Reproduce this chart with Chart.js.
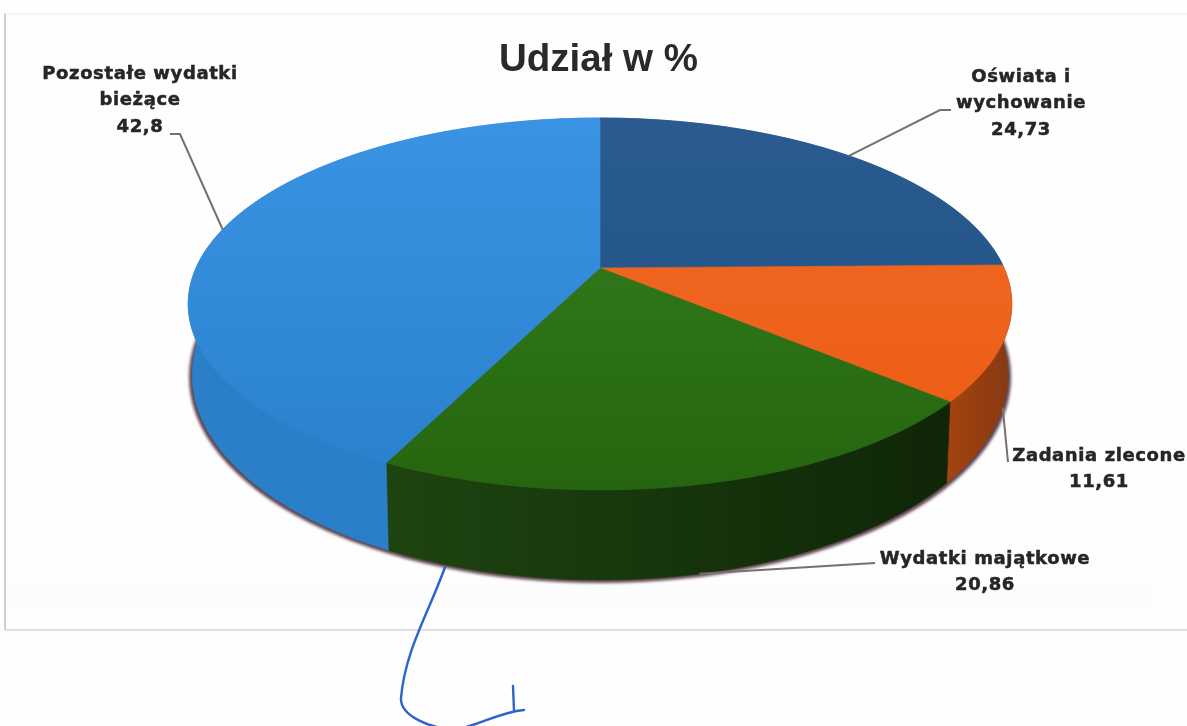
<!DOCTYPE html>
<html lang="pl">
<head>
<meta charset="utf-8">
<title>Udział w %</title>
<script src="https://cdn.jsdelivr.net/npm/chart.js@4"></script>
<style>
    html, body { margin: 0; padding: 0; background: #fff; }
    #wrap { width: 1187px; height: 726px; }
</style>
</head>
<body>
<div id="wrap"><canvas id="udzialChart" width="1187" height="726"></canvas></div>
<script>
const categories = ['Oświata i wychowanie', 'Zadania zlecone', 'Wydatki majątkowe', 'Pozostałe wydatki bieżące'];
const shares = [24.73, 11.61, 20.86, 42.8];
const shareLabels = ['24,73', '11,61', '20,86', '42,8'];

const topColors = [['#2b5b90', '#1b5187'], ['#ee6c2a', '#ee5a10'], ['#33821f', '#26650f'], ['#3a93e3', '#2a80cc']];
const wallColors = [['#1b4a78', '#1b4a78'], ['#a4430f', '#8a3a12'], ['#1e4410', '#0f2608'], ['#2a7fc8', '#2778bc']];

// label lines, centre x, first line y, leader points after the anchor
const labels = [
    { lines: ['Oświata i', 'wychowanie'], x: 1021, y: 77, leader: [[940, 110], [951, 110]] },
    { lines: ['Zadania zlecone'], x: 1099, y: 456, wall: true, leader: [[1008, 462]] },
    { lines: ['Wydatki majątkowe'], x: 985, y: 559, wall: true, leader: [[875, 563]] },
    { lines: ['Pozostałe wydatki', 'bieżące'], x: 140, y: 74, leader: [[180, 134], [170, 134]] }
];

// projected shape of the disc: apex, upper rim ellipse, lower rim ellipse
const apex = { x: 600, y: 268 };
const rim = { x: 600, y: 304, rx: 412, ry: 186 };
const base = { x: 600, y: 375, rx: 408, ry: 205 };
const tilt = -0.1935;

function project(a) {
    const u = Math.cos(a), v = Math.sin(a), w = 1 + tilt * v;
    return { x: apex.x + 404 * u / w, y: apex.y + 179 * v / w };
}

function toBase(p) {
    const c = (p.x - rim.x) / rim.rx, s = (p.y - rim.y) / rim.ry;
    return { x: base.x + base.rx * c, y: base.y + base.ry * s };
}

function edge(start, end) {
    const pts = [];
    const n = Math.max(8, Math.ceil((end - start) * 60));
    for (let i = 0; i <= n; i++) pts.push(project(start + (end - start) * i / n));
    return pts;
}

function trace(ctx, pts) {
    pts.forEach((p, i) => i ? ctx.lineTo(p.x, p.y) : ctx.moveTo(p.x, p.y));
}

const discPlugin = {
    id: 'disc',
    beforeDraw(chart) {
        const ctx = chart.ctx;
        ctx.save();
        ctx.fillStyle = '#fefefe';
        ctx.fillRect(0, 0, 1187, 726);
        ctx.fillStyle = '#fcfcfd';
        ctx.fillRect(10, 586, 1140, 20);
        ctx.strokeStyle = '#cfcfcf';
        ctx.lineWidth = 2;
        ctx.beginPath(); ctx.moveTo(5, 13); ctx.lineTo(5, 630); ctx.stroke();
        ctx.strokeStyle = '#d6d6d6';
        ctx.lineWidth = 1.5;
        ctx.beginPath(); ctx.moveTo(5, 630); ctx.lineTo(1187, 630); ctx.stroke();
        ctx.strokeStyle = '#f1f1f1';
        ctx.beginPath(); ctx.moveTo(5, 14); ctx.lineTo(1187, 14); ctx.stroke();
        ctx.restore();
    },
    beforeDatasetsDraw(chart) {
        const ctx = chart.ctx;
        const arcs = chart.getDatasetMeta(0).data;
        ctx.save();

        // soft shadow under the disc
        ctx.save();
        ctx.filter = 'blur(1.8px)';
        ctx.fillStyle = '#5e4350';
        ctx.beginPath();
        ctx.ellipse(base.x, base.y + 2, base.rx + 3, base.ry + 1, 0, 0, Math.PI * 2);
        ctx.fill();
        ctx.restore();

        // side walls
        arcs.forEach((arc, i) => {
            const top = edge(arc.startAngle, arc.endAngle);
            const bottom = top.map(toBase).reverse();
            const x0 = Math.min(top[0].x, top[top.length - 1].x);
            const x1 = Math.max(top[0].x, top[top.length - 1].x);
            const g = ctx.createLinearGradient(x0, 0, x1, 0);
            g.addColorStop(0, wallColors[i][0]);
            g.addColorStop(1, wallColors[i][1]);
            ctx.fillStyle = g;
            ctx.strokeStyle = g;
            ctx.lineWidth = 0.6;
            ctx.beginPath();
            trace(ctx, top.concat(bottom));
            ctx.closePath();
            ctx.fill();
            ctx.stroke();
        });

        // top face
        arcs.forEach((arc, i) => {
            const g = ctx.createLinearGradient(0, rim.y - rim.ry, 0, rim.y + rim.ry);
            g.addColorStop(0, topColors[i][0]);
            g.addColorStop(1, topColors[i][1]);
            ctx.fillStyle = g;
            ctx.strokeStyle = g;
            ctx.lineWidth = 0.6;
            ctx.beginPath();
            trace(ctx, [apex].concat(edge(arc.startAngle, arc.endAngle)));
            ctx.closePath();
            ctx.fill();
            ctx.stroke();
        });
        ctx.restore();
        return false;
    },
    afterDraw(chart) {
        const ctx = chart.ctx;
        const arcs = chart.getDatasetMeta(0).data;
        ctx.save();

        // leader lines from the middle of each slice
        ctx.strokeStyle = '#77716e';
        ctx.lineWidth = 2;
        labels.forEach((lab, i) => {
            const mid = (arcs[i].startAngle + arcs[i].endAngle) / 2;
            let p = project(mid);
            if (lab.wall) p = toBase(p);
            ctx.beginPath();
            ctx.moveTo(p.x, p.y);
            lab.leader.forEach(q => ctx.lineTo(q[0], q[1]));
            ctx.stroke();
        });

        // slice labels
        ctx.filter = 'blur(0.4px)';
        ctx.font = 'bold 18px "DejaVu Sans"';
        ctx.letterSpacing = '0.6px';
        ctx.fillStyle = '#262626';
        ctx.strokeStyle = '#262626';
        ctx.lineWidth = 0.5;
        ctx.textAlign = 'center';
        ctx.textBaseline = 'middle';
        labels.forEach((lab, i) => {
            lab.lines.concat(shareLabels[i]).forEach((t, k) => {
                ctx.fillText(t, lab.x, lab.y + k * 26.7);
                ctx.strokeText(t, lab.x, lab.y + k * 26.7);
            });
        });
        ctx.filter = 'none';

        // pen mark on the scan
        ctx.strokeStyle = '#2a64cc';
        ctx.lineWidth = 2.4;
        ctx.lineCap = 'round';
        ctx.beginPath();
        ctx.moveTo(445, 567);
        ctx.bezierCurveTo(430, 610, 405, 650, 401, 698);
        ctx.bezierCurveTo(400, 716, 432, 730, 458, 729);
        ctx.bezierCurveTo(480, 725, 500, 712, 524, 710);
        ctx.moveTo(513, 686);
        ctx.lineTo(514, 711);
        ctx.stroke();
        ctx.restore();
    }
};

new Chart(document.getElementById('udzialChart'), {
    type: 'pie',
    data: {
        labels: categories,
        datasets: [{
            label: 'Udział w %',
            data: shares,
            backgroundColor: topColors.map(c => c[1]),
            borderWidth: 0
        }]
    },
    options: {
        responsive: false,
        animation: false,
        layout: { padding: { left: 10 } },
        plugins: {
            legend: { display: false },
            tooltip: { enabled: false },
            title: {
                display: true,
                text: 'Udział w %',
                color: '#2a2a2a',
                font: { family: '"Liberation Sans"', size: 38.5, weight: 'bold' },
                padding: { top: 37, bottom: 10 }
            }
        }
    },
    plugins: [discPlugin]
});
</script>
</body>
</html>
